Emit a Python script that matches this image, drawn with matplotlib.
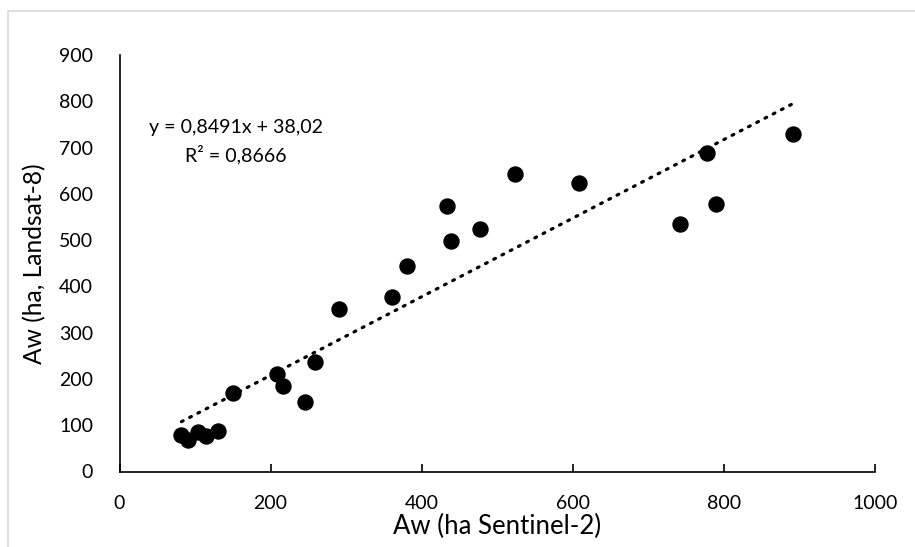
import matplotlib
matplotlib.use("Agg")
import matplotlib.pyplot as plt
import numpy as np
from matplotlib.patches import Rectangle

# Aw values (ha)
sentinel2 = [82, 91, 104, 115, 131, 150, 209, 216, 245, 259, 291, 361, 380,
             433, 439, 477, 524, 608, 742, 778, 790, 891]
landsat8 = [79, 68, 86, 77, 88, 170, 210, 185, 150, 236, 352, 378, 445,
            574, 499, 525, 643, 624, 534, 688, 579, 729]

# trend line from the chart's label
slope = 0.8491
intercept = 38.02
r2 = 0.8666

xticks = [0, 200, 400, 600, 800, 1000]
yticks = [0, 100, 200, 300, 400, 500, 600, 700, 800, 900]

plt.rcParams['font.family'] = ['Lato', 'DejaVu Sans']

fig = plt.figure(figsize=(9.15, 5.47), dpi=100)
# light grey frame of the chart area
fig.patches.append(Rectangle((8 / 915, -0.1), 1.2, 1 - 11 / 547 + 0.1,
                             transform=fig.transFigure, fill=False,
                             edgecolor='#d9d9d9', linewidth=1.2))

ax = fig.add_axes([119.5 / 915, 1 - 471.5 / 547, (875 - 119.5) / 915, (471.5 - 55) / 547])

xs = np.array([min(sentinel2), max(sentinel2)])
ax.plot(xs, slope * xs + intercept, color='black', linestyle=(0, (0.6, 2.3)),
        linewidth=2.3, dash_capstyle='round', zorder=2)
ax.plot(sentinel2, landsat8, 'o', color='black', markersize=10.8, zorder=3)

ax.set_xlim(0, 1000)
ax.set_ylim(0, 900)
ax.set_xticks(xticks)
ax.set_yticks(yticks)
ax.tick_params(axis='x', direction='in', length=6, width=1.2, labelsize=14, pad=17)
ax.tick_params(axis='y', length=0, labelsize=14, pad=19)
for s in ['top', 'right']:
    ax.spines[s].set_visible(False)
for s in ['left', 'bottom']:
    ax.spines[s].set_linewidth(1.2)

xl = ax.set_xlabel("Aw (ha Sentinel-2)", fontsize=18, labelpad=1.5)
yl = ax.set_ylabel("Aw (ha, Landsat-8)", fontsize=18, labelpad=9)

eq = fig.text(236 / 915, 1 - 127 / 547, "y = 0,8491x + 38,02",
              ha='center', va='center', fontsize=14)
rt = fig.text(236 / 915, 1 - 155 / 547, "R² = " + f"{r2:.4f}".replace('.', ','),
              ha='center', va='center', fontsize=14)

# size the texts to the widths measured on the reference (pixels)
targets = [(xl, 208, 'w'), (yl, 200, 'h'), (eq, 174, 'w')]
for _ in range(2):
    fig.canvas.draw()
    r = fig.canvas.get_renderer()
    for t, target, dim in targets:
        bb = t.get_window_extent(r)
        size = bb.width if dim == 'w' else bb.height
        t.set_fontsize(t.get_fontsize() * target / size)
rt.set_fontsize(eq.get_fontsize())

fig.savefig("out.png", dpi=100)
